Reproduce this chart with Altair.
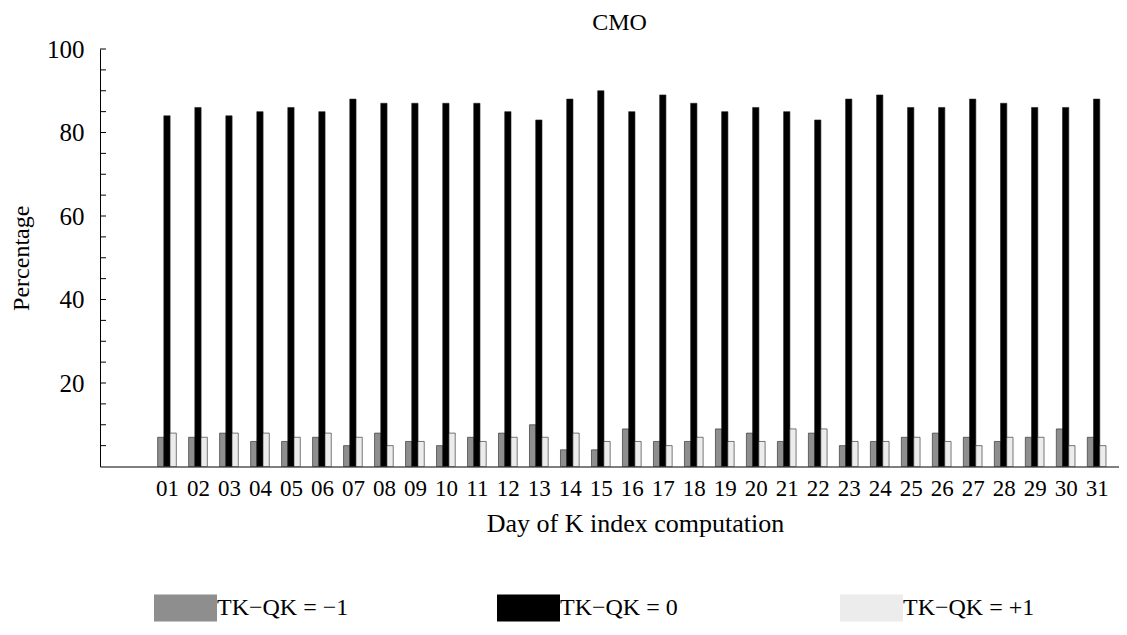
import altair as alt
import pandas as pd

days = list(range(1, 32))
series_names = ["TK\u2212QK = \u22121", "TK\u2212QK = 0", "TK\u2212QK = +1"]
neg1 = [7, 7, 8, 6, 6, 7, 5, 8, 6, 5, 7, 8, 10, 4, 4, 9, 6, 6, 9, 8, 6, 8, 5, 6, 7, 8, 7, 6, 7, 9, 7]
zero = [84, 86, 84, 85, 86, 85, 88, 87, 87, 87, 87, 85, 83, 88, 90, 85, 89, 87, 85, 86, 85, 83, 88, 89, 86, 86, 88, 87, 86, 86, 88]
pos1 = [8, 7, 8, 8, 7, 8, 7, 5, 6, 8, 6, 7, 7, 8, 6, 6, 5, 7, 6, 6, 9, 9, 6, 6, 7, 6, 5, 7, 7, 5, 5]
y_label_values = [20, 40, 60, 80, 100]
y_tick_values = list(range(5, 101, 5))
colors = ["#8e8e8e", "#000000", "#ececec"]

rows = []
for slot, (name, vals) in enumerate(zip(series_names, [neg1, zero, pos1])):
    for d, v in zip(days, vals):
        rows.append({"day": d, "series": name, "slot": slot - 1, "value": v})
df = pd.DataFrame(rows)
ticks_df = pd.DataFrame({"t": y_tick_values})

FONT = "Liberation Serif"

x_scale = alt.Scale(domain=[-1, 31.56], nice=False, zero=False)
y_scale = alt.Scale(domain=[0, 100], nice=False)

bars = alt.Chart(df).transform_calculate(
    xpos="datum.day + 0.2 * datum.slot"
).mark_bar(width=6.3, stroke="#222222", strokeWidth=0.6).encode(
    x=alt.X("xpos:Q", scale=x_scale,
            axis=alt.Axis(values=days, title="Day of K index computation",
                          labelExpr="datum.value < 10 ? '0' + datum.value : '' + datum.value",
                          ticks=False, grid=False, labelPadding=11, titlePadding=10,
                          titleX=535,
                          labelFontSize=23, titleFontSize=26, labelFont=FONT, titleFont=FONT,
                          titleFontWeight="normal", domainColor="black", labelColor="black",
                          titleColor="black", labelFlush=False, labelOverlap=False)),
    y=alt.Y("value:Q", scale=y_scale,
            axis=alt.Axis(values=y_label_values, title="Percentage", ticks=False, tickSize=0,
                          grid=False, labelPadding=16, titlePadding=13,
                          labelFontSize=25, titleFontSize=24, labelFont=FONT, titleFont=FONT,
                          titleFontWeight="normal", domainColor="black", labelColor="black",
                          titleColor="black")),
    color=alt.Color("series:N", scale=alt.Scale(domain=series_names, range=colors),
                    legend=alt.Legend(title=None, orient="none", legendX=54, legendY=527,
                                      direction="horizontal", columns=3, gridAlign="all",
                                      columnPadding=148, symbolType="M-1,-0.43H1V0.43H-1Z",
                                      symbolSize=3969, symbolStrokeWidth=0, labelOffset=0,
                                      labelFontSize=24, labelFont=FONT, labelColor="black",
                                      labelLimit=300, padding=0)),
    order=alt.Order("slot:Q"),
)

yticks = alt.Chart(ticks_df).mark_rule(color="black", strokeWidth=1).encode(
    y=alt.Y("t:Q", scale=y_scale),
    x=alt.value(0),
    x2=alt.value(6),
)

chart = alt.layer(bars, yticks).properties(
    width=1019,
    height=417.5,
    background="white",
    title=alt.TitleParams("CMO", font=FONT, fontSize=24, fontWeight="normal", color="black",
                          anchor="middle", frame="group", offset=2, dx=10),
    autosize=alt.AutoSizeParams(type="none"),
    padding={"left": 92, "top": 41, "right": 0, "bottom": 160},
).configure_view(stroke=None)

chart.save("out.html", embed_options={"renderer": "svg", "actions": False})
